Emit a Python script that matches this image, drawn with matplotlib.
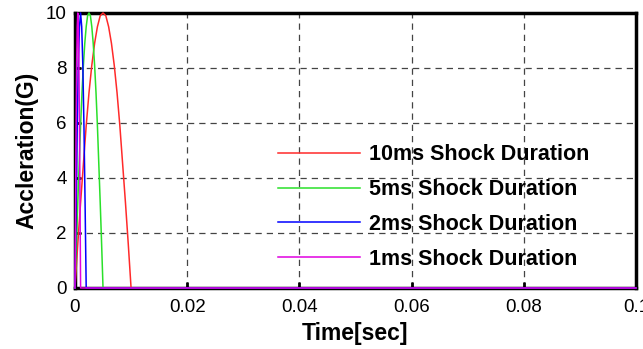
import matplotlib
matplotlib.use('Agg')
import matplotlib.pyplot as plt

plt.rcParams['font.family'] = ['Liberation Sans', 'DejaVu Sans']

# half-sine shock pulses (time in sec, acceleration in G)
t_10ms = [0, 0.0005, 0.001, 0.0015, 0.002, 0.0025, 0.003, 0.0035, 0.004, 0.0045, 0.005,
          0.0055, 0.006, 0.0065, 0.007, 0.0075, 0.008, 0.0085, 0.009, 0.0095, 0.01, 0.1]
a_10ms = [0, 1.6, 3.1, 4.5, 5.9, 7.1, 8.1, 8.9, 9.5, 9.9, 10,
          9.9, 9.5, 8.9, 8.1, 7.1, 5.9, 4.5, 3.1, 1.6, 0, 0]

t_5ms = [0, 0.00025, 0.0005, 0.00075, 0.001, 0.00125, 0.0015, 0.00175, 0.002, 0.00225, 0.0025,
         0.00275, 0.003, 0.00325, 0.0035, 0.00375, 0.004, 0.00425, 0.0045, 0.00475, 0.005, 0.1]
a_5ms = [0, 1.6, 3.1, 4.5, 5.9, 7.1, 8.1, 8.9, 9.5, 9.9, 10,
         9.9, 9.5, 8.9, 8.1, 7.1, 5.9, 4.5, 3.1, 1.6, 0, 0]

t_2ms = [0, 0.0002, 0.0004, 0.0006, 0.0008, 0.001, 0.0012, 0.0014, 0.0016, 0.0018, 0.002, 0.1]
a_2ms = [0, 3.1, 5.9, 8.1, 9.5, 10, 9.5, 8.1, 5.9, 3.1, 0, 0]

t_1ms = [0, 0.0001, 0.0002, 0.0003, 0.0004, 0.0005, 0.0006, 0.0007, 0.0008, 0.0009, 0.001, 0.1]
a_1ms = [0, 3.1, 5.9, 8.1, 9.5, 10, 9.5, 8.1, 5.9, 3.1, 0, 0]

labels = ['10ms Shock Duration', '5ms Shock Duration', '2ms Shock Duration', '1ms Shock Duration']
colors = ['#ff2a2a', '#2ae02a', '#0000ff', '#e000e0']

xticks = [0, 0.02, 0.04, 0.06, 0.08, 0.1]
xticklabels = ['0', '0.02', '0.04', '0.06', '0.08', '0.1']
yticks = [0, 2, 4, 6, 8, 10]

fig = plt.figure(figsize=(6.43, 3.49), dpi=100)
ax = fig.add_axes([0.1166, 0.1748, 0.8724, 0.788])

series = [(t_10ms, a_10ms), (t_5ms, a_5ms), (t_2ms, a_2ms), (t_1ms, a_1ms)]
for (t, a), c, lab in zip(series, colors, labels):
    ax.plot(t, a, color=c, lw=1.1, label=lab, zorder=3, clip_on=False)

ax.set_xlim(0, 0.1)
ax.set_ylim(0, 10)
ax.set_xticks(xticks)
ax.set_xticklabels(xticklabels)
ax.set_yticks(yticks)
ax.tick_params(direction='in', length=4, width=2, labelsize=13.5)
ax.tick_params(axis='x', pad=8)
ax.tick_params(axis='y', pad=6)
ax.grid(True, color='#444444', linestyle=(0, (5, 4)), linewidth=0.9)
for s in ax.spines.values():
    s.set_linewidth(2.5)

ax.set_xlabel('Time[sec]', fontsize=16.5, fontweight='bold', labelpad=4)
ax.set_ylabel('Accleration(G)', fontsize=16.5, fontweight='bold', labelpad=5)

leg = ax.legend(loc='center left', bbox_to_anchor=(0.432, 0.407), bbox_transform=fig.transFigure,
                frameon=False, prop={'size': 15.5, 'weight': 'bold'}, handlelength=3.8,
                labelspacing=0.64, handletextpad=0.45, borderpad=0, borderaxespad=0)

plt.savefig('out.png', dpi=100)
